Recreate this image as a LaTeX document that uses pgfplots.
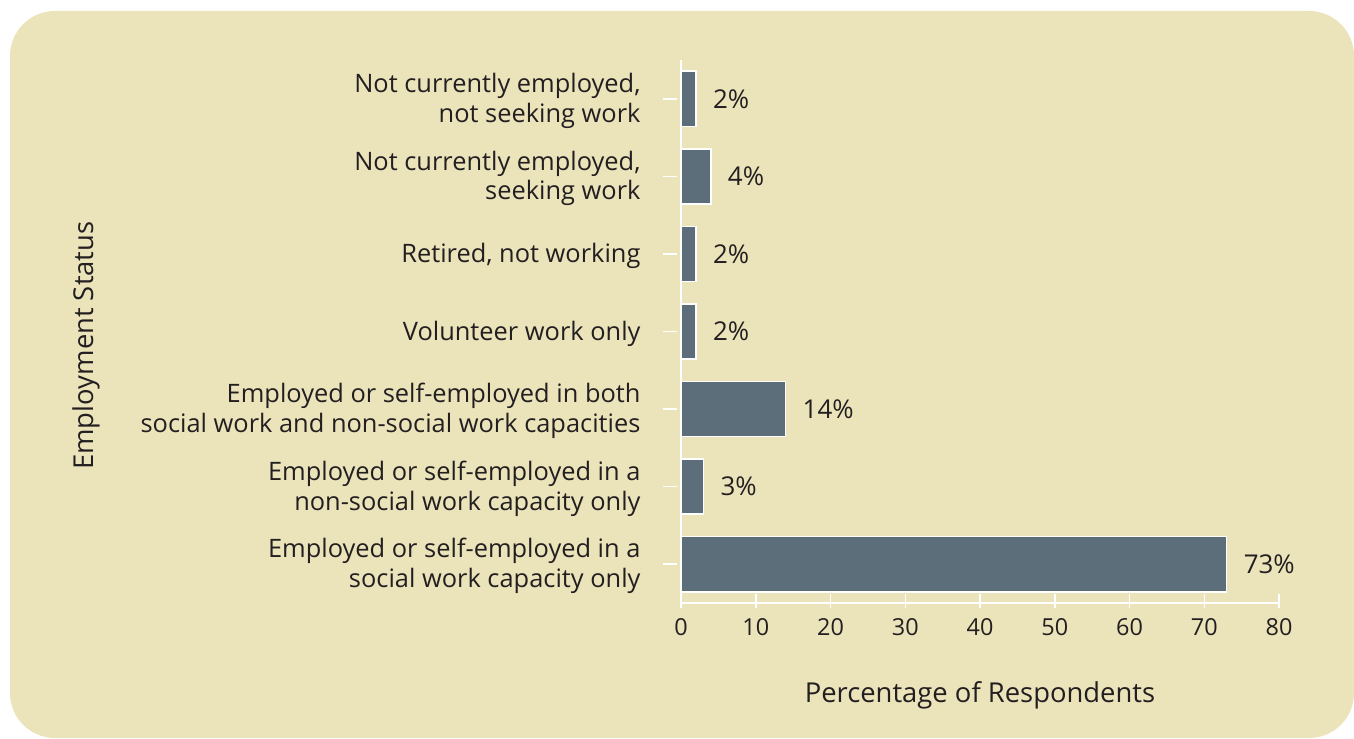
\documentclass[border=0pt]{standalone}
\usepackage{fontspec}
\setmainfont{Open Sans}
\usepackage{pgfplots}
\pgfplotsset{compat=1.18}
\definecolor{bg}{HTML}{EBE4BB}
\definecolor{barc}{HTML}{5B6E7A}
\definecolor{txt}{HTML}{231F20}
\begin{document}
\begin{tikzpicture}[x=1bp,y=1bp,font=\fontsize{25.5}{30}\selectfont]
\useasboundingbox (0,0) rectangle (1354,738);
\fill[white] (0,0) rectangle (1354,738);
\fill[bg, rounded corners=45bp] (10,0) rectangle (1354,727);
\begin{axis}[
  at={(681bp,135bp)}, anchor=south west,
  scale only axis, width=598bp, height=543bp,
  xmin=0, xmax=80, ymin=-0.5, ymax=6.5,
  xtick={0,10,...,80}, ytick={0,...,6},
  yticklabels={{Employed or self-employed in a\\social work capacity only},
    {Employed or self-employed in a\\non-social work capacity only},
    {Employed or self-employed in both\\social work and non-social work capacities},
    {Volunteer work only},
    {Retired, not working},
    {Not currently employed,\\seeking work},
    {Not currently employed,\\not seeking work}},
  axis x line=bottom, axis y line=left,
  axis line style={white, line width=1.5bp, -},
  tick align=outside,
  major tick length=14bp,
  xtick style={white, line width=1.5bp, yshift=9bp},
  ytick style={white, line width=1.5bp, xshift=-4bp},
  xticklabel style={text=txt, yshift=2bp, font=\fontsize{23.5}{28}\selectfont},
  yticklabel style={text=txt, align=right, xshift=-23bp, yshift=-2bp, font=\fontsize{25.5}{30}\selectfont},
  /pgf/number format/assume math mode=true,
  xlabel={Percentage of Respondents},
  ylabel={Employment Status},
  xlabel style={text=txt, at={(axis description cs:0.5,-0.17)}, anchor=center, font=\fontsize{27.5}{30}\selectfont},
  ylabel style={text=txt, at={(axis description cs:-0.995,0.474)}, anchor=center, font=\fontsize{27.5}{30}\selectfont},
  clip=false,
]
\addplot[xbar, fill=barc, draw=white, line width=1.5bp, bar width=0.71,
  point meta=x,
  nodes near coords={\pgfmathprintnumber{\pgfplotspointmeta}\%},
  every node near coord/.append style={anchor=west, xshift=13bp, text=txt, font=\fontsize{26}{28}\selectfont}]
  coordinates {(73,0) (3,1) (14,2) (2,3) (2,4) (4,5) (2,6)};
\end{axis}
\end{tikzpicture}
\end{document}
